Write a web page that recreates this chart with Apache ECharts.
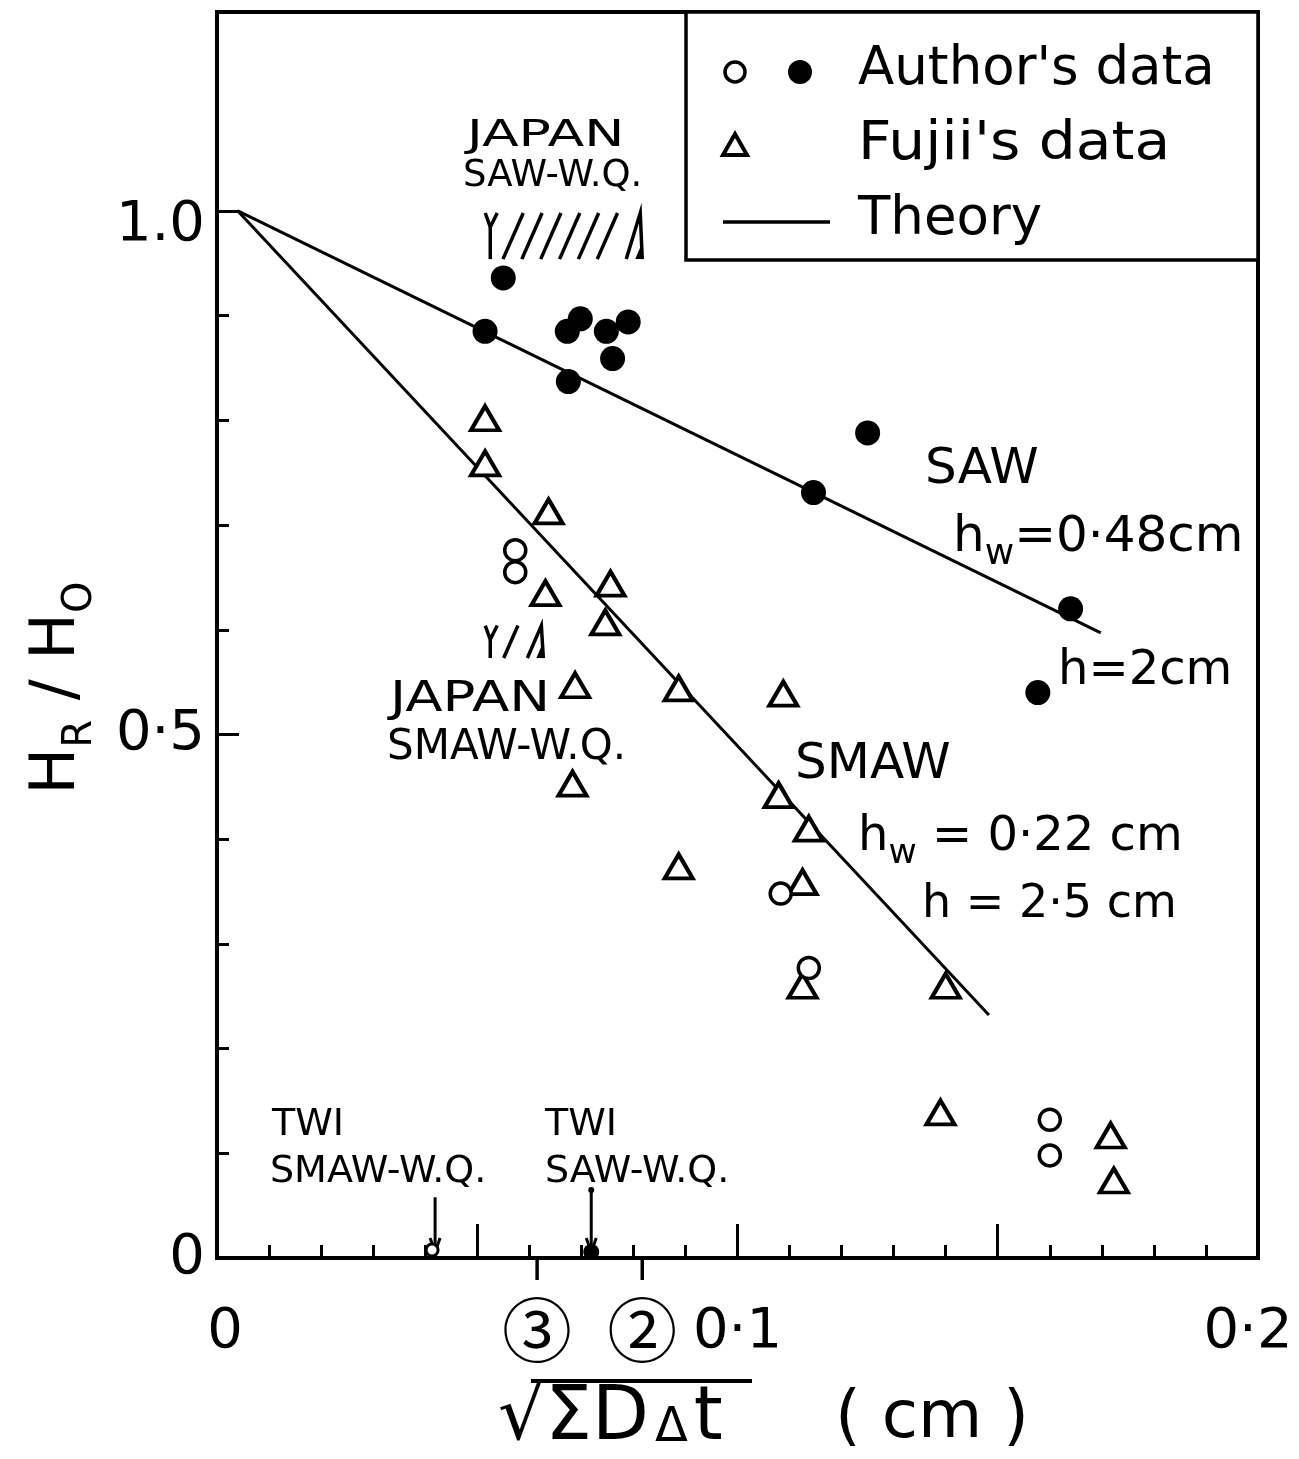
<!DOCTYPE html>
<html>
<head>
<meta charset="utf-8">
<title>H_R/H_0 vs sqrt(sum D dt)</title>
<script src="https://cdn.jsdelivr.net/npm/echarts@6/dist/echarts.min.js"></script>
<style>
  html, body { margin: 0; padding: 0; background: #fff; }
  #main { width: 1299px; height: 1459px; }
</style>
</head>
<body>
<div id="main"></div>
<script>
// x: sqrt(sum D dt) in cm, y: H_R / H_0

// Author's data, filled circles
var authorSolidX = [0.0550, 0.0515, 0.0673, 0.0698, 0.0748, 0.0790, 0.0760, 0.0675, 0.1250, 0.1146, 0.1640, 0.1577];
var authorSolidY = [0.936, 0.885, 0.885, 0.897, 0.885, 0.894, 0.859, 0.837, 0.788, 0.731, 0.620, 0.540];

// Author's data, open circles
var authorOpenX = [0.0573, 0.0573, 0.1083, 0.1137, 0.1600, 0.1600];
var authorOpenY = [0.676, 0.655, 0.348, 0.277, 0.132, 0.098];

// Fujii's data, triangles
var fujiiX = [0.0515, 0.0515, 0.0637, 0.0631, 0.0756, 0.0746, 0.0688, 0.0887, 0.1088, 0.0683,
              0.1079, 0.1137, 0.0887, 0.1125, 0.1125, 0.1400, 0.1390, 0.1717, 0.1723];
var fujiiY = [0.802, 0.759, 0.713, 0.635, 0.644, 0.607, 0.547, 0.544, 0.539, 0.453,
              0.442, 0.410, 0.374, 0.359, 0.260, 0.260, 0.139, 0.117, 0.074];

// theory lines (start / end)
var sawTheoryX = [0.004, 0.1698];
var sawTheoryY = [1.0, 0.597];
var smawTheoryX = [0.004, 0.1483];
var smawTheoryY = [1.0, 0.232];

// hatched ranges (x0, x1, y0, y1, number of slashes)
var japanSaw = [0.0525, 0.0817, 0.954, 0.998, 6];
var japanSmaw = [0.0525, 0.0627, 0.573, 0.604, 1];

// TWI arrows (x, top of arrow, hollow tip?)
var twiSmaw = [0.0419, 0.058, 1];
var twiSaw = [0.0719, 0.065, 0];

// marks under the x axis
var markX = [0.0615, 0.0817];
var markLabels = ['③', '②'];

// ticks and tick labels
var yMinorTicks = [0, 0.1, 0.2, 0.3, 0.4, 0.5, 0.6, 0.7, 0.8, 0.9, 1.0];
var yMajorTicks = [0.5, 1.0];
var yLabelValues = [0, 0.5, 1.0];
var xTickLabels = { '0': '{z|0}', '0.1': '0·1', '0.2': '{r|0·2}' };
var yTickLabels = { '0': '0', '0.5': '0·5', '1': '{d|1.0}' };

function zip(xs, ys) {
  return xs.map(function (x, i) { return [x, ys[i]]; });
}

var FONT = '"DejaVu Sans", "Noto Sans", sans-serif';
var INK = '#000';

function renderHatch(params, api) {
  var tl = api.coord([api.value(0), api.value(3)]);
  var br = api.coord([api.value(1), api.value(2)]);
  var n = api.value(4);
  var h = br[1] - tl[1];
  var st = { stroke: INK, lineWidth: 3.5, fill: null };
  var kids = [
    { type: 'polyline', shape: { points: [[tl[0] - 5, tl[1]], [tl[0], tl[1] + 14], [tl[0] + 7, tl[1]]] }, style: st },
    { type: 'line', shape: { x1: tl[0], y1: tl[1] + 14, x2: tl[0], y2: br[1] }, style: st },
    { type: 'polyline', shape: { points: [[br[0] - 16, br[1]], [br[0] - 2, tl[1]], [br[0], br[1]]] }, style: st },
    { type: 'polygon', shape: { points: [[br[0] - 7, br[1]], [br[0] - 1, br[1] - 14], [br[0], br[1]]] }, style: { fill: INK } }
  ];
  var span = br[0] - tl[0] - 20;
  for (var i = 1; i <= n; i++) {
    var cx = tl[0] + 4 + span * i / (n + 1);
    kids.push({ type: 'line', shape: { x1: cx - h * 0.22, y1: br[1], x2: cx + h * 0.22, y2: tl[1] }, style: st });
  }
  return { type: 'group', children: kids };
}

function renderArrow(params, api) {
  var top = api.coord([api.value(0), api.value(1)]);
  var bot = api.coord([api.value(0), 0]);
  var hollow = api.value(2);
  var x = top[0];
  var st = { stroke: INK, lineWidth: 3, fill: null };
  var kids = [
    { type: 'line', shape: { x1: x, y1: top[1], x2: x, y2: bot[1] - 6 }, style: st },
    { type: 'polyline', shape: { points: [[x - 5, bot[1] - 20], [x, bot[1] - 6], [x + 5, bot[1] - 20]] }, style: st }
  ];
  if (hollow) {
    kids.push({ type: 'circle', shape: { cx: x - 3, cy: bot[1] - 8, r: 6 }, style: { fill: '#fff', stroke: INK, lineWidth: 3 } });
  } else {
    kids.push({ type: 'circle', shape: { cx: x, cy: top[1], r: 3 }, style: { fill: INK } });
    kids.push({ type: 'circle', shape: { cx: x, cy: bot[1] - 6, r: 8 }, style: { fill: INK } });
  }
  return { type: 'group', children: kids };
}

function renderMark(params, api) {
  var p = api.coord([api.value(0), 0]);
  return {
    type: 'group',
    children: [
      { type: 'line', shape: { x1: p[0], y1: p[1], x2: p[0], y2: p[1] + 22 }, style: { stroke: INK, lineWidth: 3.5 } },
      { type: 'text', x: p[0], y: p[1] + 72,
        style: { text: markLabels[params.dataIndex], font: '70px "Noto Sans CJK JP", ' + FONT, fill: INK, align: 'center', verticalAlign: 'middle' } }
    ]
  };
}

function label(text, x, y, size, scaleX) {
  return { type: 'text', x: x, y: y, scaleX: scaleX || 1, style: { text: text, font: size + 'px ' + FONT, fill: INK, verticalAlign: 'middle' } };
}

function subLabel(base, sub, rest, x, y, size) {
  return {
    type: 'text', x: x, y: y,
    style: {
      text: '{m|' + base + '}{s|' + sub + '}{m|' + rest + '}',
      verticalAlign: 'middle',
      rich: {
        m: { fontFamily: FONT, fontSize: size, lineHeight: size * 1.4, fill: INK, color: INK },
        s: { fontFamily: FONT, fontSize: size * 0.72, lineHeight: size * 1.4, verticalAlign: 'bottom', fill: INK, color: INK }
      }
    }
  };
}

var chart = echarts.init(document.getElementById('main'), null, { renderer: 'canvas' });

var yBase = {
  type: 'value', min: 0, max: 1.19,
  splitLine: { show: false },
  minorSplitLine: { show: false }
};

var option = {
  backgroundColor: '#fff',
  animation: false,
  textStyle: { fontFamily: FONT, color: INK },
  grid: {
    left: 217, top: 12, width: 1041, height: 1246,
    show: true, borderColor: INK, borderWidth: 4,
    containLabel: false, outerBoundsMode: 'none'
  },
  xAxis: {
    type: 'value', min: 0, max: 0.2, interval: 0.05,
    axisLine: { show: true, lineStyle: { color: INK, width: 4 } },
    axisTick: { show: true, inside: true, length: 34, lineStyle: { color: INK, width: 3 } },
    minorTick: { show: true, splitNumber: 5, length: 13, lineStyle: { color: INK, width: 3 } },
    splitLine: { show: false },
    minorSplitLine: { show: false },
    axisLabel: {
      margin: 46, fontSize: 56, color: INK, fontFamily: FONT,
      formatter: function (v) { return xTickLabels[String(+v.toFixed(3))] || ''; },
      rich: {
        z: { fontSize: 56, fontFamily: FONT, color: INK, padding: [0, 0, 0, 16] },
        r: { fontSize: 56, fontFamily: FONT, color: INK, padding: [0, 20, 0, 0] }
      }
    }
  },
  yAxis: [
    Object.assign({}, yBase, {
      axisLine: { show: true, lineStyle: { color: INK, width: 4 } },
      axisTick: { show: true, inside: true, length: 12, customValues: yMinorTicks, lineStyle: { color: INK, width: 3 } },
      axisLabel: {
        margin: 12, fontSize: 56, color: INK, fontFamily: FONT, customValues: yLabelValues,
        formatter: function (v) { return yTickLabels[String(+v.toFixed(3))] || ''; },
        rich: {
          d: { fontSize: 56, fontFamily: FONT, color: INK, padding: [30, 0, 0, 0] }
        }
      }
    }),
    Object.assign({}, yBase, {
      position: 'left',
      axisLine: { show: false },
      axisTick: { show: true, inside: true, length: 22, customValues: yMajorTicks, lineStyle: { color: INK, width: 3 } },
      axisLabel: { show: false, customValues: yMajorTicks }
    })
  ],
  series: [
    {
      name: 'SAW theory', type: 'line', data: zip(sawTheoryX, sawTheoryY),
      showSymbol: false, lineStyle: { color: INK, width: 3 }, z: 1
    },
    {
      name: 'SMAW theory', type: 'line', data: zip(smawTheoryX, smawTheoryY),
      showSymbol: false, lineStyle: { color: INK, width: 3 }, z: 1
    },
    {
      name: "Fujii's data", type: 'scatter', data: zip(fujiiX, fujiiY),
      symbol: 'triangle', symbolSize: [28, 24],
      itemStyle: { color: '#fff', borderColor: INK, borderWidth: 4, opacity: 1 }, z: 3
    },
    {
      name: "Author's data (open)", type: 'scatter', data: zip(authorOpenX, authorOpenY),
      symbol: 'circle', symbolSize: 21,
      itemStyle: { color: '#fff', borderColor: INK, borderWidth: 3.5, opacity: 1 }, z: 3
    },
    {
      name: "Author's data", type: 'scatter', data: zip(authorSolidX, authorSolidY),
      symbol: 'circle', symbolSize: 25,
      itemStyle: { color: INK, opacity: 1 }, z: 4
    },
    {
      name: 'JAPAN W.Q.', type: 'custom', renderItem: renderHatch, clip: false,
      data: [japanSaw, japanSmaw], z: 5, silent: true
    },
    {
      name: 'TWI W.Q.', type: 'custom', renderItem: renderArrow, clip: false,
      data: [twiSmaw, twiSaw], z: 5, silent: true
    },
    {
      name: 'marks', type: 'custom', renderItem: renderMark, clip: false,
      data: markX.map(function (x) { return [x, 0]; }), z: 5, silent: true
    }
  ],
  graphic: [
    // legend box
    { type: 'rect', shape: { x: 686, y: 12, width: 572, height: 248 }, style: { fill: '#fff', stroke: INK, lineWidth: 3.5 }, z: 10 },
    { type: 'circle', shape: { cx: 735, cy: 72, r: 10 }, style: { fill: '#fff', stroke: INK, lineWidth: 3.5 }, z: 11 },
    { type: 'circle', shape: { cx: 800, cy: 72, r: 12 }, style: { fill: INK }, z: 11 },
    { type: 'polygon', shape: { points: [[735, 134], [723, 155], [747, 155]] }, style: { fill: '#fff', stroke: INK, lineWidth: 4 }, z: 11 },
    { type: 'line', shape: { x1: 723, y1: 222, x2: 830, y2: 222 }, style: { stroke: INK, lineWidth: 3.5 }, z: 11 },
    Object.assign(label("Author's data", 858, 70, 53), { z: 11 }),
    Object.assign(label("Fujii's data", 858, 145, 53, 1.1), { z: 11 }),
    Object.assign(label('Theory', 858, 220, 53), { z: 11 }),

    // annotations
    label('JAPAN', 467, 136, 37, 1.45),
    label('SAW-W.Q.', 463, 176, 37),
    label('SAW', 925, 470, 50),
    subLabel('h', 'w', '=0·48cm', 953, 538, 50),
    label('h=2cm', 1058, 672, 48),
    label('JAPAN', 390, 700, 42, 1.3),
    label('SMAW-W.Q.', 387, 748, 42),
    label('SMAW', 795, 765, 50),
    subLabel('h', 'w', ' = 0·22 cm', 858, 838, 48),
    label('h = 2·5 cm', 922, 905, 46),
    label('TWI', 272, 1125, 38),
    label('SMAW-W.Q.', 270, 1172, 38),
    label('TWI', 545, 1125, 38),
    label('SAW-W.Q.', 545, 1172, 38),

    // axis titles
    {
      type: 'text', x: 58, y: 688, rotation: Math.PI / 2,
      style: {
        text: '{m|H}{s|R}{m| / H}{s|O}',
        align: 'center', verticalAlign: 'middle',
        rich: {
          m: { fontFamily: FONT, fontSize: 62, lineHeight: 86, fill: INK, color: INK },
          s: { fontFamily: FONT, fontSize: 40, lineHeight: 86, verticalAlign: 'bottom', fill: INK, color: INK }
        }
      }
    },
    {
      type: 'text', x: 498, y: 1420,
      style: {
        text: '{m|√ΣD}{d|Δ}{m|t}',
        verticalAlign: 'middle',
        rich: {
          m: { fontFamily: FONT, fontSize: 74, lineHeight: 90, fill: INK, color: INK },
          d: { fontFamily: FONT, fontSize: 48, verticalAlign: 'middle', padding: [18, 6, 0, 6], fill: INK, color: INK }
        }
      }
    },
    { type: 'line', shape: { x1: 531, y1: 1381, x2: 752, y2: 1381 }, style: { stroke: INK, lineWidth: 4 } },
    label('( cm )', 835, 1420, 66)
  ]
};

chart.setOption(option);
</script>
</body>
</html>
